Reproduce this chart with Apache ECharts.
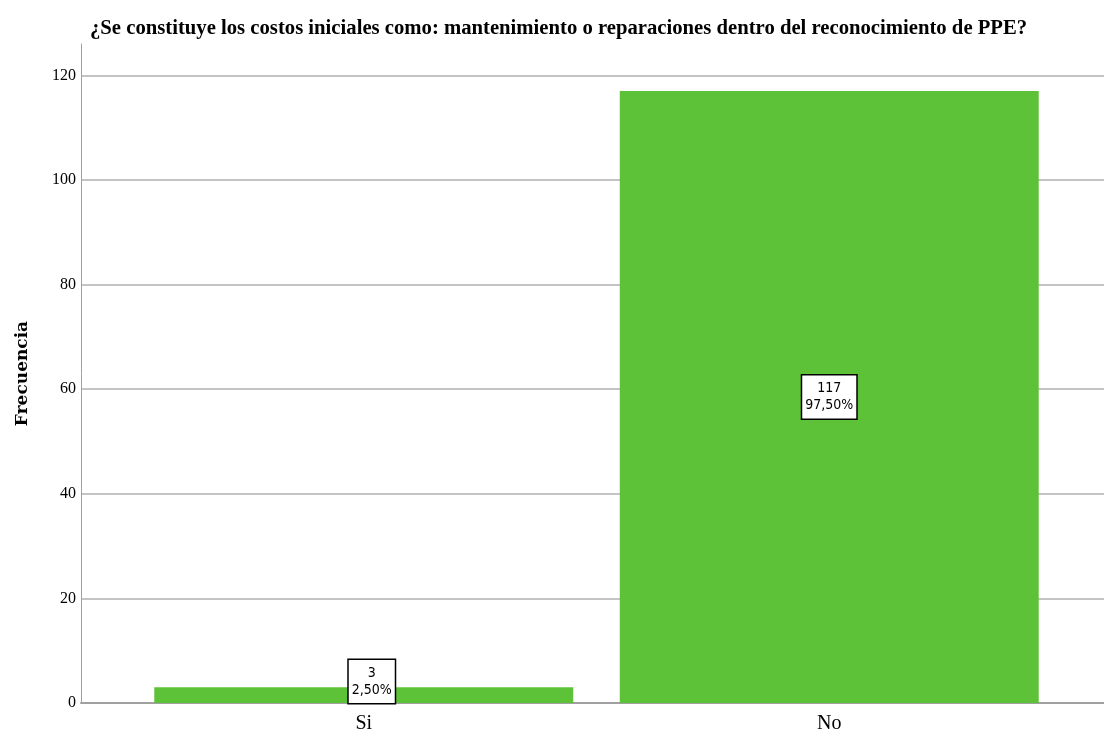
<!DOCTYPE html>
<html>
<head>
<meta charset="utf-8">
<script src="https://cdn.jsdelivr.net/npm/echarts@6/dist/echarts.min.js"></script>
<style>
html,body{margin:0;padding:0;background:#fff;}
#c{width:1104px;height:738px;}
</style>
</head>
<body>
<div id="c"></div>
<script>
const categories = ['Si', 'No'];
const frequencies = [3, 117];
const percentages = ['2,50%', '97,50%'];
const yTicks = [0, 20, 40, 60, 80, 100, 120];

const chart = echarts.init(document.getElementById('c'), null, {renderer: 'canvas'});
const serif = '"Liberation Serif", "DejaVu Serif", serif';

chart.setOption({
  animation: false,
  backgroundColor: '#ffffff',
  title: {
    text: '¿Se constituye los costos iniciales como: mantenimiento o reparaciones dentro del reconocimiento de PPE?',
    left: 85, top: 13,
    textStyle: {fontFamily: serif, fontWeight: 'bold', fontSize: 20.7, color: '#000'}
  },
  grid: [
    {left: 81, right: 0, top: 44, bottom: 35},
    {left: 131, right: 42, top: 44, bottom: 35}
  ],
  xAxis: [
    {type: 'value', gridIndex: 0, min: 0, max: 1, show: true,
     axisLine: {show: true, lineStyle: {color: '#a0a0a0', width: 2}},
     axisTick: {show: false}, axisLabel: {show: false}, splitLine: {show: false}},
    {type: 'category', gridIndex: 1, data: categories,
     axisLine: {show: false}, axisTick: {show: false},
     axisLabel: {fontFamily: serif, fontSize: 20, color: '#000', margin: 11}}
  ],
  yAxis: [
    {type: 'value', gridIndex: 0, min: 0, max: 126, interval: 20,
     name: 'Frecuencia', nameLocation: 'middle', nameGap: 50, nameRotate: 90,
     nameTextStyle: {fontFamily: '"DejaVu Serif", serif', fontWeight: 'bold', fontSize: 17, color: '#000'},
     axisLine: {show: true, lineStyle: {color: '#a0a0a0', width: 1}},
     axisTick: {show: false},
     axisLabel: {fontFamily: serif, fontSize: 16, color: '#000', margin: 5,
       formatter: v => yTicks.includes(v) ? String(v) : ''},
     splitLine: {show: true, showMinLine: false, showMaxLine: false, lineStyle: {color: '#c4c4c4', width: 2}}},
    {type: 'value', gridIndex: 1, min: 0, max: 126, show: false}
  ],
  series: [{
    type: 'bar', xAxisIndex: 1, yAxisIndex: 1,
    barWidth: '90%',
    data: frequencies.map((v, i) => ({
      value: v,
      label: i === 0 ? {position: 'insideBottom', distance: 0, offset: [8, 0]} : {position: 'inside'}
    })),
    itemStyle: {color: '#5ec238'},
    label: {
      show: true,
      formatter: p => frequencies[p.dataIndex] + '\n' + percentages[p.dataIndex],
      fontFamily: '"DejaVu Sans Condensed", "DejaVu Sans", sans-serif',
      fontSize: 14, lineHeight: 17, color: '#000',
      backgroundColor: '#fff', borderColor: '#000', borderWidth: 1.5,
      padding: [5, 3, 4, 3], align: 'center'
    }
  }]
});
</script>
</body>
</html>
